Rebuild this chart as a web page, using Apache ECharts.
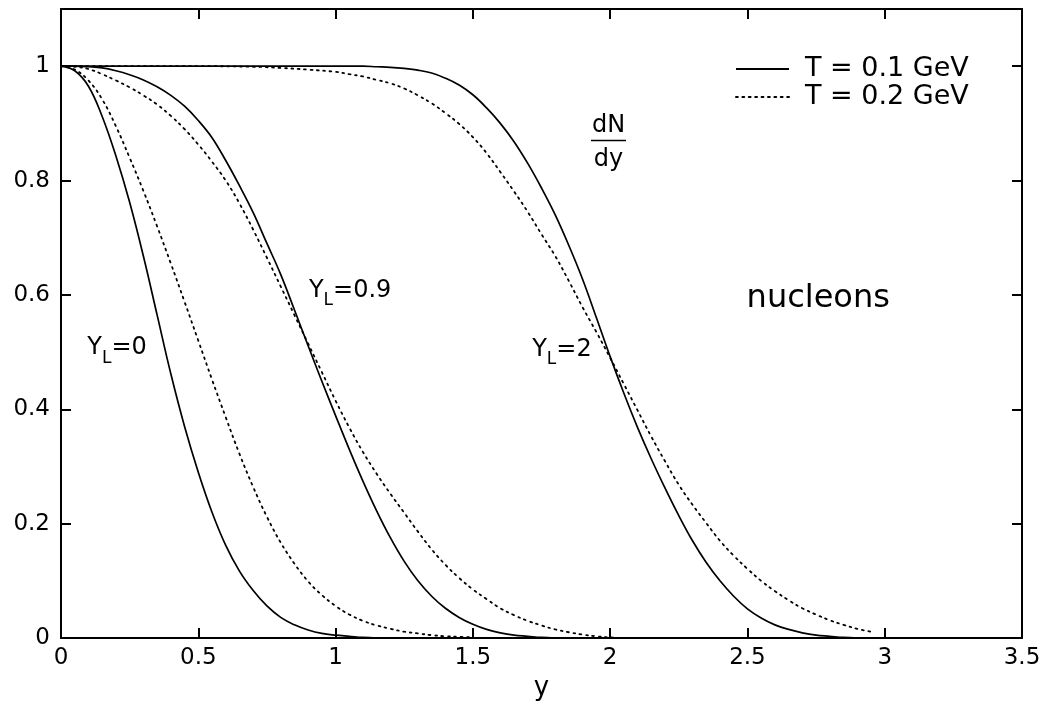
<!DOCTYPE html>
<html>
<head>
<meta charset="utf-8">
<script src="https://cdn.jsdelivr.net/npm/echarts@6/dist/echarts.min.js"></script>
<style>
  html, body { margin: 0; padding: 0; background: #fff; }
  #chart { width: 1047px; height: 722px; }
</style>
</head>
<body>
<div id="chart"></div>
<script>
// Nucleon rapidity distributions dN/dy (normalised to 1 at y = 0)
// for three longitudinal flow rapidities Y_L and two temperatures.

// Y_L = 0
const rapYL0T1 = [0, 0.05, 0.1, 0.15, 0.2, 0.25, 0.3, 0.35, 0.4, 0.45, 0.5, 0.55, 0.6, 0.65, 0.7, 0.75, 0.8, 0.85, 0.9, 0.95, 1.0, 1.05, 1.1, 1.15];
const dndyYL0T1 = [1, 0.992, 0.965, 0.912, 0.843, 0.762, 0.668, 0.565, 0.462, 0.37, 0.29, 0.22, 0.162, 0.117, 0.083, 0.056, 0.036, 0.023, 0.014, 0.008, 0.005, 0.003, 0.001, 0];
const rapYL0T2 = [0, 0.05, 0.1, 0.15, 0.2, 0.25, 0.3, 0.35, 0.4, 0.45, 0.5, 0.55, 0.6, 0.65, 0.7, 0.75, 0.8, 0.85, 0.9, 0.95, 1.0, 1.05, 1.1, 1.15, 1.2, 1.25, 1.3, 1.35, 1.4, 1.45, 1.5];
const dndyYL0T2 = [1, 0.994, 0.975, 0.942, 0.895, 0.84, 0.782, 0.72, 0.655, 0.588, 0.52, 0.452, 0.386, 0.322, 0.264, 0.212, 0.167, 0.13, 0.099, 0.075, 0.056, 0.041, 0.03, 0.022, 0.016, 0.011, 0.008, 0.005, 0.003, 0.002, 0.001];

// Y_L = 0.9
const rapYL09T1 = [0, 0.05, 0.1, 0.15, 0.2, 0.25, 0.3, 0.35, 0.4, 0.45, 0.5, 0.55, 0.6, 0.65, 0.7, 0.75, 0.8, 0.85, 0.9, 0.95, 1.0, 1.05, 1.1, 1.15, 1.2, 1.25, 1.3, 1.35, 1.4, 1.45, 1.5, 1.55, 1.6, 1.65, 1.7, 1.75, 1.8];
const dndyYL09T1 = [1, 1, 0.999, 0.997, 0.992, 0.985, 0.976, 0.964, 0.949, 0.93, 0.905, 0.875, 0.835, 0.791, 0.744, 0.69, 0.636, 0.574, 0.511, 0.449, 0.389, 0.33, 0.274, 0.222, 0.175, 0.134, 0.1, 0.073, 0.052, 0.036, 0.024, 0.015, 0.009, 0.005, 0.003, 0.001, 0];
const rapYL09T2 = [0, 0.05, 0.1, 0.15, 0.2, 0.25, 0.3, 0.35, 0.4, 0.45, 0.5, 0.55, 0.6, 0.65, 0.7, 0.75, 0.8, 0.85, 0.9, 0.95, 1.0, 1.05, 1.1, 1.15, 1.2, 1.25, 1.3, 1.35, 1.4, 1.45, 1.5, 1.55, 1.6, 1.65, 1.7, 1.75, 1.8, 1.85, 1.9, 1.95, 2.0, 2.05];
const dndyYL09T2 = [1, 0.999, 0.995, 0.986, 0.975, 0.963, 0.949, 0.933, 0.913, 0.89, 0.863, 0.833, 0.8, 0.76, 0.714, 0.665, 0.615, 0.565, 0.515, 0.465, 0.415, 0.368, 0.325, 0.287, 0.252, 0.219, 0.186, 0.155, 0.128, 0.105, 0.085, 0.068, 0.052, 0.04, 0.03, 0.022, 0.015, 0.01, 0.006, 0.003, 0.001, 0];

// Y_L = 2
const rapYL2T1 = [0, 0.5, 1.0, 1.1, 1.15, 1.2, 1.25, 1.3, 1.35, 1.4, 1.45, 1.5, 1.55, 1.6, 1.65, 1.7, 1.75, 1.8, 1.85, 1.9, 1.95, 2.0, 2.05, 2.1, 2.15, 2.2, 2.25, 2.3, 2.35, 2.4, 2.45, 2.5, 2.55, 2.6, 2.65, 2.7, 2.75, 2.8, 2.85, 2.9];
const dndyYL2T1 = [1, 1, 1, 1, 0.999, 0.998, 0.996, 0.993, 0.988, 0.979, 0.967, 0.95, 0.927, 0.9, 0.868, 0.83, 0.787, 0.74, 0.686, 0.627, 0.56, 0.492, 0.428, 0.368, 0.313, 0.262, 0.214, 0.17, 0.132, 0.1, 0.073, 0.051, 0.035, 0.023, 0.015, 0.009, 0.005, 0.003, 0.001, 0];
const rapYL2T2 = [0, 0.5, 0.7, 0.8, 0.9, 1.0, 1.05, 1.1, 1.15, 1.2, 1.25, 1.3, 1.35, 1.4, 1.45, 1.5, 1.55, 1.6, 1.65, 1.7, 1.75, 1.8, 1.85, 1.9, 1.95, 2.0, 2.05, 2.1, 2.15, 2.2, 2.25, 2.3, 2.35, 2.4, 2.45, 2.5, 2.55, 2.6, 2.65, 2.7, 2.75, 2.8, 2.85, 2.9, 2.95];
const dndyYL2T2 = [1, 1, 0.999, 0.997, 0.994, 0.99, 0.986, 0.982, 0.976, 0.97, 0.961, 0.949, 0.935, 0.918, 0.899, 0.876, 0.848, 0.815, 0.781, 0.745, 0.706, 0.668, 0.624, 0.578, 0.535, 0.49, 0.444, 0.398, 0.352, 0.309, 0.268, 0.233, 0.201, 0.17, 0.144, 0.121, 0.1, 0.082, 0.066, 0.052, 0.041, 0.031, 0.023, 0.016, 0.011];

const seriesNames = ['T = 0.1 GeV', 'T = 0.2 GeV'];

const FONT = 'DejaVu Sans';
const INK = '#000';

function pairs(xs, vs) { return xs.map((x, i) => [x, vs[i]]); }

const solidStyle = { color: INK, width: 1.7, type: 'solid' };
const dotStyle = { color: INK, width: 1.8, type: [1.8, 4.6], cap: 'round' };

function curve(name, xs, vs, style) {
  return {
    name: name,
    type: 'line',
    data: pairs(xs, vs),
    smooth: 0.4,
    symbol: 'none',
    lineStyle: style,
    itemStyle: { color: INK },
    silent: true,
    animation: false,
    xAxisIndex: 0,
    yAxisIndex: 0
  };
}

const frameLine = { show: true, onZero: false, lineStyle: { color: INK, width: 2 } };
const innerTick = { show: true, inside: true, length: 10, lineStyle: { color: INK, width: 2 } };

const chart = echarts.init(document.getElementById('chart'), null, { renderer: 'canvas' });

chart.setOption({
  animation: false,
  backgroundColor: '#fff',
  grid: { left: 61, right: 25, top: 9, bottom: 84, containLabel: false },
  legend: {
    data: seriesNames,
    orient: 'vertical',
    left: 735,
    top: 55,
    padding: 0,
    itemWidth: 53,
    itemHeight: 14,
    itemGap: 0,
    selectedMode: false,
    itemStyle: { opacity: 0 },
    textStyle: { color: INK, fontFamily: FONT, fontSize: 27, lineHeight: 28, padding: [0, 0, 0, 11] }
  },
  xAxis: [
    {
      type: 'value', position: 'bottom', min: 0, max: 3.5, interval: 0.5,
      axisLine: frameLine, axisTick: innerTick, splitLine: { show: false },
      axisLabel: { color: INK, fontFamily: FONT, fontSize: 23, margin: 9 },
      name: 'y', nameLocation: 'middle', nameGap: 37,
      nameTextStyle: { color: INK, fontFamily: FONT, fontSize: 26 }
    },
    {
      type: 'value', position: 'top', min: 0, max: 3.5, interval: 0.5,
      axisLine: frameLine, axisTick: innerTick, splitLine: { show: false },
      axisLabel: { show: false }
    }
  ],
  yAxis: [
    {
      type: 'value', position: 'left', min: 0, max: 1.1, interval: 0.2,
      axisLine: frameLine, axisTick: innerTick, splitLine: { show: false },
      axisLabel: { color: INK, fontFamily: FONT, fontSize: 23, margin: 11, showMaxLabel: false }
    },
    {
      type: 'value', position: 'right', min: 0, max: 1.1, interval: 0.2,
      axisLine: frameLine, axisTick: innerTick, splitLine: { show: false },
      axisLabel: { show: false }
    }
  ],
  series: [
    curve(seriesNames[0], rapYL0T1, dndyYL0T1, solidStyle),
    curve(seriesNames[1], rapYL0T2, dndyYL0T2, dotStyle),
    curve(seriesNames[0], rapYL09T1, dndyYL09T1, solidStyle),
    curve(seriesNames[1], rapYL09T2, dndyYL09T2, dotStyle),
    curve(seriesNames[0], rapYL2T1, dndyYL2T1, solidStyle),
    curve(seriesNames[1], rapYL2T2, dndyYL2T2, dotStyle)
  ]
});

// Text annotations, anchored in data coordinates of the plot.
const curveLabels = [
  { text: '0', at: [0.096, 0.507] },
  { text: '0.9', at: [0.903, 0.607] },
  { text: '2', at: [1.716, 0.504] }
];

function px(pt) { return chart.convertToPixel({ xAxisIndex: 0, yAxisIndex: 0 }, pt); }

const graphics = curveLabels.map(function (lab) {
  const p = px(lab.at);
  return {
    type: 'text', x: p[0], y: p[1], silent: true,
    style: {
      text: '{b|Y}{s|L}{b|=' + lab.text + '}',
      align: 'left', verticalAlign: 'middle',
      rich: {
        b: { fontFamily: FONT, fontSize: 24, fill: INK, color: INK },
        s: { fontFamily: FONT, fontSize: 17, fill: INK, color: INK, padding: [20, 0, 0, 0] }
      }
    }
  };
});

// dN/dy fraction
const frac = px([1.994, 0.870]);
graphics.push(
  { type: 'text', x: frac[0], y: frac[1] - 15, silent: true,
    style: { text: 'dN', align: 'center', verticalAlign: 'middle', fontFamily: FONT, fontSize: 24, fill: INK } },
  { type: 'line', silent: true,
    shape: { x1: frac[0] - 17.5, y1: frac[1], x2: frac[0] + 17.5, y2: frac[1] },
    style: { stroke: INK, lineWidth: 1.5 } },
  { type: 'text', x: frac[0], y: frac[1] + 19, silent: true,
    style: { text: 'dy', align: 'center', verticalAlign: 'middle', fontFamily: FONT, fontSize: 24, fill: INK } }
);

// particle species
const nuc = px([2.497, 0.593]);
graphics.push({ type: 'text', x: nuc[0], y: nuc[1], silent: true,
  style: { text: 'nucleons', align: 'left', verticalAlign: 'middle', fontFamily: FONT, fontSize: 32, fill: INK } });

chart.setOption({ graphic: graphics });
</script>
</body>
</html>
